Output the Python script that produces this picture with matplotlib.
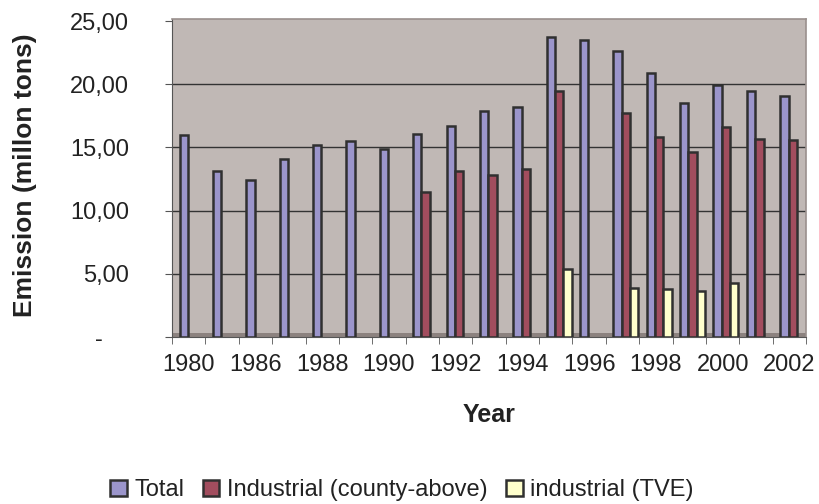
import matplotlib
matplotlib.use("Agg")
import matplotlib.pyplot as plt
from matplotlib.patches import Rectangle
from matplotlib.ticker import FuncFormatter

plt.rcParams['font.family'] = ['Liberation Sans', 'DejaVu Sans']

years = ['1980', '1985', '1986', '1987', '1988', '1989', '1990', '1991', '1992', '1993',
         '1994', '1995', '1996', '1997', '1998', '1999', '2000', '2001', '2002']
total = [16.0, 13.1, 12.4, 14.1, 15.2, 15.5, 14.9, 16.1, 16.7, 17.9,
         18.2, 23.7, 23.5, 22.6, 20.9, 18.5, 19.9, 19.5, 19.1]
industrial = [None, None, None, None, None, None, None, 11.5, 13.1, 12.8,
              13.3, 19.5, None, 17.7, 15.8, 14.6, 16.6, 15.7, 15.6]
tve = [None, None, None, None, None, None, None, None, None, None,
       None, 5.35, None, 3.9, 3.8, 3.65, 4.25, None, None]

series = [
    ('Total', total, '#9b95cb', -0.15),
    ('Industrial (county-above)', industrial, '#a24d5e', 0.10),
    ('industrial (TVE)', tve, '#ffffcc', 0.35),
]

fig = plt.figure(figsize=(8.2, 5.04), dpi=100)
ax = fig.add_axes([0.2098, 0.3313, 0.983 - 0.2098, 0.9623 - 0.3313])
ax.set_facecolor('#c0b8b5')

w = 0.25
for name, vals, color, off in series:
    xs = [i + off for i, v in enumerate(vals) if v is not None]
    hs = [v for v in vals if v is not None]
    ax.bar(xs, hs, width=w, color=color, edgecolor='#303030', linewidth=1.8,
           label=name, zorder=3)

# floor strip
ax.add_patch(Rectangle((0, 0), 1, 0.012, transform=ax.transAxes,
                       facecolor='#8c827f', edgecolor='none', zorder=2))

ax.set_xlim(-0.5, 18.5)
ax.set_ylim(0, 25.16)
ax.set_yticks([0, 5, 10, 15, 20, 25])
ax.yaxis.set_major_formatter(FuncFormatter(
    lambda v, p: '-    ' if v == 0 else f'{v:.2f}'.replace('.', ',')))
ax.set_xticks([i - 0.5 for i in range(20)], minor=True)
ax.set_xticks(range(0, 19, 2))
ax.set_xticklabels(years[::2])
ax.tick_params(axis='x', which='major', length=0, labelsize=17, pad=12, labelcolor='#222222')
ax.tick_params(axis='x', which='minor', length=5, color='#555555', direction='out')
ax.tick_params(axis='y', length=5, color='#555555', labelsize=17, pad=26, labelcolor='#222222')

for y in [5, 10, 15, 20]:
    ax.axhline(y, color='#333333', linewidth=1.0, zorder=1)

for s in ['top', 'right']:
    ax.spines[s].set_color('#9a908d')
    ax.spines[s].set_linewidth(1.2)
ax.spines['left'].set_color('#555555')
ax.spines['bottom'].set_color('#555555')

ax.set_xlabel('Year', fontsize=18, fontweight='bold', color='#222222', labelpad=20)
ax.set_ylabel('Emission (millon tons)', fontsize=19, fontweight='bold', color='#222222')
ax.yaxis.set_label_coords(-0.213, 0.51)

fig.legend(loc='center', bbox_to_anchor=(0.49, 0.027), ncol=3, frameon=False,
           fontsize=17, handlelength=0.7, handleheight=0.7, handletextpad=0.3,
           columnspacing=0.8, labelcolor='#222222')

fig.savefig('out.png', dpi=100)
